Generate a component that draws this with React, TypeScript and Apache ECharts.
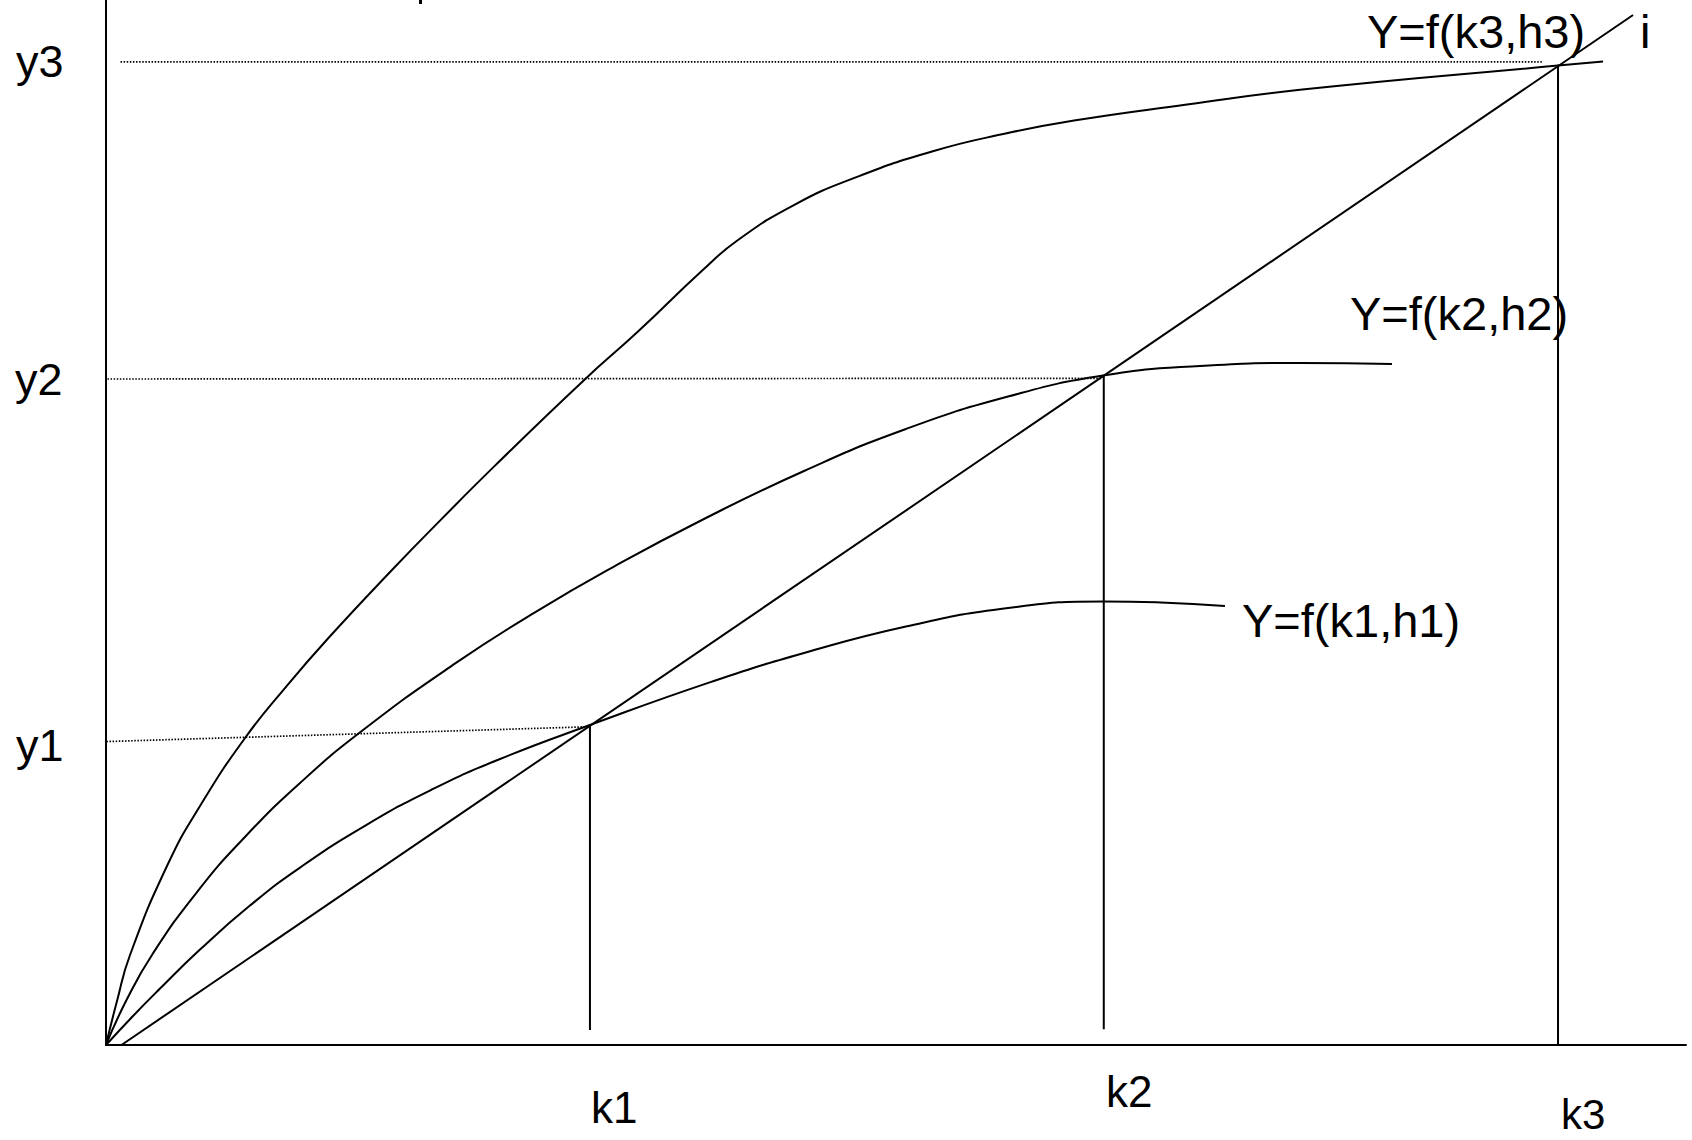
import React, { useEffect, useRef } from "react";
import * as echarts from "echarts";

// Output curves Y = f(k, h) for three levels of h, in chart units (0..100 on both axes)
const curveK1H1: [number, number][] = [
  [0, 0], [1.71, 2.78], [3.42, 5.4], [5.95, 9.13], [9.11, 13.34], [12.28, 16.98],
  [16.52, 21.09], [20.7, 24.5], [24.94, 27.37], [30.63, 30.62], [38.35, 34.77],
  [44.18, 37.51], [50.63, 40.05], [57.09, 41.82], [63.16, 42.45], [66.77, 42.34],
  [70.82, 42.01],
];

const curveK2H2: [number, number][] = [
  [0, 0], [1.33, 4.4], [2.97, 8.76], [5.76, 14.64], [8.67, 19.71], [12.28, 25.07],
  [16.27, 30.14], [22.15, 36.56], [27.15, 41.4], [32.15, 45.78], [37.72, 50.24],
  [44.18, 54.93], [50.63, 58.95], [57.09, 62.05], [63.1, 64.06], [69.24, 64.98],
  [75.57, 65.26], [81.39, 65.17],
];

const curveK3H3: [number, number][] = [
  [0, 0], [0.68, 4.11], [1.52, 8.61], [3.92, 17.32], [5.95, 22.87], [8.8, 29.38],
  [11.46, 34.4], [14.05, 38.9], [18.16, 45.55], [21.14, 50.18], [24.62, 55.44],
  [30.25, 63.62], [33.67, 68.27], [37.72, 74.09], [40.0, 77.03], [43.54, 80.38],
  [47.41, 83.0], [52.28, 85.51], [57.09, 87.27], [61.27, 88.47], [68.42, 90.0],
  [75.57, 91.41], [91.9, 93.73], [94.75, 94.11],
];

// Ray i through the three equilibrium points
const rayI: [number, number][] = [[0.98, 0], [96.65, 98.56]];

// Equilibrium capital levels and the matching outputs
const kValues = [30.63, 63.15, 91.9];
const yValues = [30.62, 64.1, 93.8];
const kLineBottoms = [1.44, 1.5, 0];

// Dotted guides from the Y axis to each equilibrium output
const guideY1: [number, number][] = [[-0.76, 29.0], [30.45, 30.45]];
const guideY2: [number, number][] = [[-0.89, 63.73], [63.0, 63.8]];
const guideY3: [number, number][] = [[0.92, 94.07], [90.87, 94.07]];

const yTickLabels = ["y1", "y2", "y3"];
const kTickLabels = ["k1", "k2", "k3"];
const curveLabels = ["Y=f(k1,h1)", "Y=f(k2,h2)", "Y=f(k3,h3)"];
const rayLabel = "i";

const FONT = "'Liberation Sans', Arial, Helvetica, sans-serif";

function solid(data: [number, number][], smooth: number | boolean = false) {
  return {
    type: "line",
    data,
    smooth,
    symbol: "none",
    silent: true,
    lineStyle: { color: "#000", width: 2 },
  };
}

function dotted(data: [number, number][]) {
  return {
    type: "line",
    data,
    symbol: "none",
    silent: true,
    clip: false,
    lineStyle: { color: "#000", width: 1.7, type: [1.5, 1.6] },
  };
}

function label(text: string, x: number, y: number, size: number) {
  return {
    type: "text",
    x,
    y,
    silent: true,
    style: {
      text,
      fill: "#000",
      fontSize: size,
      fontFamily: FONT,
      align: "left",
      verticalAlign: "middle",
    },
  };
}

export default function App() {
  const ref = useRef<HTMLDivElement>(null);

  useEffect(() => {
    if (!ref.current) return;
    const chart = echarts.init(ref.current, null, { renderer: "svg" });

    const kLines = kValues.map((k, i) =>
      solid([
        [k, kLineBottoms[i]],
        [k, yValues[i]],
      ])
    );

    const axisCommon = {
      type: "value",
      min: 0,
      max: 100,
      axisLine: { show: true, onZero: false, lineStyle: { color: "#000", width: 2 } },
      axisTick: { show: false },
      axisLabel: { show: false },
      splitLine: { show: false },
    };

    chart.setOption({
      animation: false,
      backgroundColor: "#fff",
      grid: { left: 106, top: 0, width: 1580, height: 1045 },
      xAxis: axisCommon,
      yAxis: axisCommon,
      series: [
        solid(curveK1H1, 0.5),
        solid(curveK2H2, 0.5),
        solid(curveK3H3, 0.5),
        solid(rayI),
        ...kLines,
        dotted(guideY1),
        dotted(guideY2),
        dotted(guideY3),
      ],
      graphic: [
        label(yTickLabels[2], 16, 61, 45),
        label(yTickLabels[1], 15, 379, 45),
        label(yTickLabels[0], 16, 745, 45),
        label(kTickLabels[0], 591, 1107, 44),
        label(kTickLabels[1], 1106, 1091, 44),
        label(kTickLabels[2], 1561, 1114, 42),
        label(curveLabels[2], 1367, 31, 47),
        label(rayLabel, 1640, 31, 47),
        label(curveLabels[1], 1350, 313, 47),
        label(curveLabels[0], 1242, 620, 47),
        {
          type: "rect",
          silent: true,
          shape: { x: 419, y: 0, width: 3, height: 4 },
          style: { fill: "#000" },
        },
      ],
    });

    return () => chart.dispose();
  }, []);

  return (
    <div
      ref={ref}
      style={{ position: "absolute", left: 0, top: 0, width: 1692, height: 1140, background: "#fff" }}
    />
  );
}
